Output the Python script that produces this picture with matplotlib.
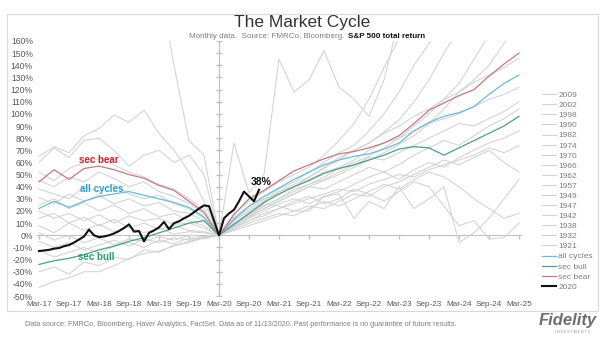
import numpy as np
import matplotlib
matplotlib.use('Agg')
import matplotlib.pyplot as plt
from matplotlib.patches import Rectangle

plt.rcParams['font.family'] = ['Liberation Sans', 'DejaVu Sans']

# months relative to the Mar-20 low, sampled every quarter (Mar-17 .. Mar-25)
months = np.arange(-36, 61, 3)
tick_months = np.arange(-36, 61, 6)
tick_labels = ['Mar-17', 'Sep-17', 'Mar-18', 'Sep-18', 'Mar-19', 'Sep-19', 'Mar-20',
               'Sep-20', 'Mar-21', 'Sep-21', 'Mar-22', 'Sep-22', 'Mar-23', 'Sep-23',
               'Mar-24', 'Sep-24', 'Mar-25']

# past cycles (% from the market low), values above 160 run off the chart
y2009 = [14, 18, 10, 15, 8, 13, 6, 10, 5, 8, 4, 3, 0,
         7, 12, 18, 22, 26, 30, 34, 38, 36, 42, 46, 50, 48, 54, 58, 62, 66, 72, 68, 74]
y2002 = [20, 14, 18, 12, 17, 10, 16, 12, 14, 9, 10, 6, 0,
         4, 8, 12, 16, 20, 24, 22, 28, 34, 32, 40, 44, 50, 56, 62, 58, 64, 70, 60, 52]
y1998 = [8, 2, 10, 4, 9, 3, 7, 2, 6, 1, 3, 2, 0,
         8, 14, 20, 26, 30, 26, 32, 36, 42, 48, 52, 46, 54, 60, 56, 64, 70, 76, 80, 86]
y1990 = [25, 30, 22, 27, 20, 25, 18, 22, 15, 18, 12, 8, 0,
         9, 17, 24, 30, 36, 42, 46, 52, 58, 64, 62, 68, 74, 80, 86, 92, 90, 96, 102, 110]
y1982 = [2, -4, 0, -6, -2, -8, -3, -5, -1, -4, 0, -1, 0,
         8, 15, 22, 28, 34, 40, 45, 50, 56, 62, 68, 75, 82, 92, 104, 118, 128, 140, 158, 172]
y1974 = [31, 26, 34, 28, 33, 26, 30, 24, 27, 20, 18, 12, 0,
         14, 22, 30, 34, 40, 46, 52, 56, 62, 70, 76, 80, 86, 92, 96, 100, 106, 112, 116, 122]
y1970 = [-5, -10, -6, -12, -8, -4, -9, -3, -6, -2, -4, -1, 0,
         10, 18, 24, 30, 38, 42, 48, 55, 60, 65, 72, 80, 90, 100, 112, 125, 145, 165, 180, 195]
y1966 = [38, 34, 30, 40, 36, 42, 34, 30, 33, 26, 22, 14, 0,
         5, 10, 14, 18, 16, 22, 28, 24, 30, 36, 42, 38, 46, 52, 48, 40, 30, 22, 14, 18]
y1962 = [-12, -18, -14, -10, -15, -9, -6, -10, -4, -7, -2, -3, 0,
         12, 20, 28, 36, 42, 48, 56, 64, 70, 76, 84, 90, 98, 104, 112, 118, 126, 132, 138, 146]
y1957 = [45, 40, 48, 44, 52, 47, 40, 44, 36, 32, 26, 18, 0,
         6, 12, 16, 22, 28, 32, 26, 30, 38, 34, 28, 36, 44, 40, 24, 8, 12, -3, -2, 10]
y1949 = [-30, -26, -32, -22, -25, -18, -20, -12, -14, -8, -6, -2, 0,
         12, 20, 28, 36, 40, 48, 55, 62, 70, 76, 85, 95, 110, 128, 150, 170, 185, 195, 205, 215]
y1947 = [52, 45, 55, 60, 63, 58, 52, 48, 42, 38, 30, 22, 0,
         10, 16, 22, 28, 34, 40, 38, 44, 50, 56, 52, 58, 66, 72, 78, 74, 82, 90, 96, 104]
y1942 = [-43, -38, -35, -30, -30, -25, -19, -15, -13, -9, -5, -2, 0,
         15, 24, 30, 38, 44, 52, 60, 68, 74, 86, 100, 118, 140, 158, 172, 185, 195, 205, 215, 225]
y1938 = [60, 72, 64, 78, 80, 70, 57, 66, 70, 60, 66, 50, 0,
         8, 14, 26, 24, 20, 20, 32, 34, 14, 28, 22, 40, 22, 30, 40, -6, 2, 14, 30, 46]
y1932 = [300, 300, 300, 300, 300, 300, 300, 300, 210, 140, 78, 66, 0,
         76, 35, 50, 145, 118, 128, 152, 122, 112, 98, 128, 178, 220, 240, 250, 260, 270, 280, 290, 300]
y1921 = [65, 73, 68, 82, 88, 99, 93, 103, 84, 70, 52, 28, 0,
         18, 28, 36, 44, 50, 56, 66, 78, 92, 112, 138, 162, 185, 200, 210, 220, 230, 240, 250, 260]

all_cycles = [22, 28, 23, 28, 32, 34, 36, 33, 30, 27, 23, 15, 0,
              13, 24, 32, 39, 46, 52, 58, 62, 65, 67, 71, 76, 86, 93, 98, 101, 106, 116, 125, 132]
sec_bull = [-24, -21, -19, -16, -12, -9, -5, -2, 2, 6, 10, 12, 0,
            9, 18, 27, 34, 40, 45, 51, 55, 58, 62, 66, 71, 73, 72, 66, 72, 78, 84, 90, 98]
sec_bear = [44, 54, 46, 55, 57, 54, 50, 47, 41, 37, 28, 19, 0,
            17, 30, 37, 45, 53, 58, 63, 67, 69, 72, 76, 82, 92, 103, 109, 115, 120, 131, 141, 150]

# 2020 cycle, monthly Mar-17 .. Nov-20
months_2020 = np.arange(-36, 9)
y2020 = [-13, -12.5, -12, -11, -10.5, -9, -8, -6, -3.5, -1, 4.7, 0, -1.5, -1, 0, 1.5,
         3.5, 6, 9, 3, 3.5, -5, 2, 4, 6.5, 11, 5, 10, 11.5, 14, 16, 19, 22, 24.6, 24,
         12, 0, 14, 18, 21, 28, 36, 32, 28, 37.5]

gray_series = [('2009', y2009), ('2002', y2002), ('1998', y1998), ('1990', y1990),
               ('1982', y1982), ('1974', y1974), ('1970', y1970), ('1966', y1966),
               ('1962', y1962), ('1957', y1957), ('1949', y1949), ('1947', y1947),
               ('1942', y1942), ('1938', y1938), ('1932', y1932), ('1921', y1921)]

fig = plt.figure(figsize=(6.05, 3.41), dpi=100)
ax = fig.add_axes([37 / 605, 45 / 341, 485 / 605, 255 / 341])

handles = []
for name, vals in gray_series:
    h, = ax.plot(months, vals, color='#d2d2d2', lw=0.75, label=name, zorder=2)
    handles.append(h)

h, = ax.plot(months, all_cycles, color='#6cbad6', lw=0.9, label='all cycles', zorder=3)
handles.append(h)
h, = ax.plot(months, sec_bull, color='#4e9e8e', lw=0.9, label='sec bull', zorder=3)
handles.append(h)
h, = ax.plot(months, sec_bear, color='#c47a80', lw=0.9, label='sec bear', zorder=3)
handles.append(h)
h, = ax.plot(months_2020, y2020, color='#111111', lw=1.5, label='2020', zorder=4)
handles.append(h)

# axes crossing at 0% and at Mar-20
ax.axhline(0, color='#c0c0c0', lw=0.8, zorder=1)
ax.plot(tick_months, np.zeros(len(tick_months)), linestyle='none', marker=3,
        ms=3, color='#c0c0c0', zorder=1)
ax.axvline(0, color='#c0c0c0', lw=0.8, zorder=1)
yt = np.arange(-50, 161, 10)
ax.plot(np.zeros(len(yt)), yt, linestyle='none', marker='_', ms=4,
        color='#c0c0c0', zorder=1)

ax.set_xlim(-36.4, 60.6)
ax.set_ylim(-50, 160)
ax.set_yticks(yt)
ax.set_yticklabels([f'{v}%' for v in yt], fontsize=6.2, color='#595959')
ax.set_xticks(tick_months)
ax.set_xticklabels(tick_labels, fontsize=5.9, color='#595959')
ax.tick_params(length=0)
ax.tick_params(axis='y', pad=3)
ax.tick_params(axis='x', pad=3.8)
for s in ax.spines.values():
    s.set_visible(False)

ax.text(-24, 62, 'sec bear', color='#c8262c', fontsize=7, fontweight='bold',
        ha='center', va='center')
ax.text(-23.4, 38, 'all cycles', color='#2ea3c9', fontsize=7, fontweight='bold',
        ha='center', va='center')
ax.text(-24.6, -18, 'sec bull', color='#2f9a6e', fontsize=7, fontweight='bold',
        ha='center', va='center')
ax.text(8.4, 43.5, '38%', color='#111111', fontsize=7.5, fontweight='bold',
        ha='center', va='center')

fig.legend(handles=handles, loc='center left', bbox_to_anchor=(538 / 605, 1 - 191 / 341),
           frameon=False, fontsize=6, labelcolor='#7f7f7f', handlelength=1.7,
           handletextpad=0.25, labelspacing=0.27, borderpad=0)

fig.text(302 / 605, 1 - 22 / 341, 'The Market Cycle', fontsize=12.5, color='#333333',
         ha='center', va='center')
fig.text(344 / 605, 1 - 36 / 341, 'Monthly data.  Source: FMRCo, Bloomberg.',
         fontsize=5.8, color='#7f7f7f', ha='right', va='center')
fig.text(348 / 605, 1 - 36 / 341, 'S&P 500 total return', fontsize=5.8,
         color='#111111', fontweight='bold', ha='left', va='center')
fig.text(25 / 605, 1 - 324 / 341,
         'Data source: FMRCo, Bloomberg, Haver Analytics, FactSet. Data as of 11/13/2020. '
         'Past performance is no guarantee of future results.',
         fontsize=5.2, color='#7f7f7f', ha='left', va='center')
fig.text(597 / 605, 1 - 321 / 341, 'Fidelity', fontsize=12, color='#6e6e6e',
         fontweight='bold', fontstyle='italic', ha='right', va='center')
fig.text(590 / 605, 1 - 332 / 341, 'I N V E S T M E N T S', fontsize=2.5,
         color='#8a8a8a', ha='right', va='center')

fig.patches.append(Rectangle((7 / 605, 1 - 311 / 341), 591 / 605, 297 / 341,
                             transform=fig.transFigure, fill=False,
                             edgecolor='#d9d9d9', lw=0.8))

fig.savefig('out.png', dpi=100)
